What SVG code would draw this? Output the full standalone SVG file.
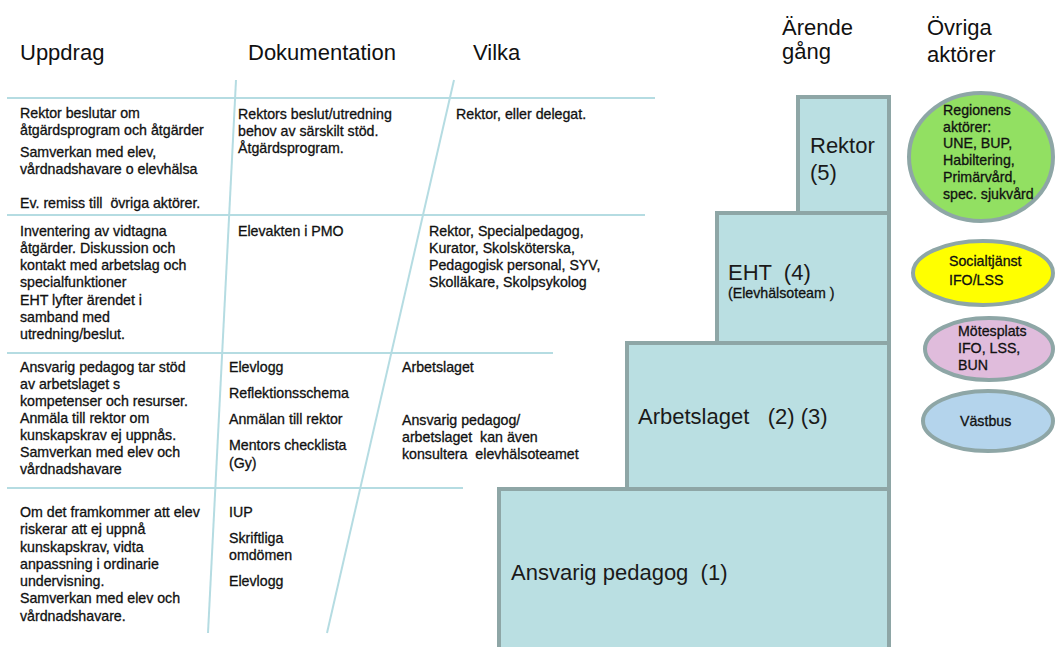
<svg xmlns="http://www.w3.org/2000/svg" width="1060" height="647" viewBox="0 0 1060 647">
  <style>
    text { font-family: "Liberation Sans", Arial, sans-serif; fill: #111; }
    .h { font-size: 22px; }
    .t { font-size: 14.2px; stroke: #111; stroke-width: 0.3; }
    .big { font-size: 22px; fill: #1a1a1a; }
    .grid { stroke: #b5dce2; stroke-width: 2; fill: none; }
    .step { fill: #badfe2; stroke: #8ea6a6; stroke-width: 4; }
    .ell { stroke: #8ea6a6; stroke-width: 4; }
  </style>
  <rect width="1060" height="647" fill="#ffffff"/>

  <!-- headers -->
  <g id="headers">
    <text class="h" x="20" y="60">Uppdrag</text>
    <text class="h" x="248" y="60">Dokumentation</text>
    <text class="h" x="473" y="60">Vilka</text>
    <text class="h" x="782" y="35">Ärende</text>
    <text class="h" x="782" y="59">gång</text>
    <text class="h" x="927" y="35">Övriga</text>
    <text class="h" x="927" y="62">aktörer</text>
  </g>

  <!-- table grid lines -->
  <g id="connectors">
    <line class="grid" x1="7" y1="98" x2="655" y2="98"/>
    <line class="grid" x1="7" y1="215" x2="645" y2="215"/>
    <line class="grid" x1="7" y1="353" x2="553" y2="353"/>
    <line class="grid" x1="7" y1="488" x2="463" y2="488"/>
    <line class="grid" x1="236" y1="80" x2="208" y2="633"/>
    <line class="grid" x1="454" y1="80" x2="327" y2="633"/>
  </g>

  <!-- row 1 -->
  <g id="row1">
    <text class="t" x="20" y="118">Rektor beslutar om</text>
    <text class="t" x="20" y="135">åtgärdsprogram och åtgärder</text>
    <text class="t" x="20" y="157">Samverkan med elev,</text>
    <text class="t" x="20" y="174">vårdnadshavare o elevhälsa</text>
    <text class="t" x="20" y="208" xml:space="preserve">Ev. remiss till  övriga aktörer.</text>
    <text class="t" x="238" y="118.5">Rektors beslut/utredning</text>
    <text class="t" x="238" y="135.5">behov av särskilt stöd.</text>
    <text class="t" x="238" y="152.5">Åtgärdsprogram.</text>
    <text class="t" x="456" y="118.5">Rektor, eller delegat.</text>
  </g>

  <!-- row 2 -->
  <g id="row2">
    <text class="t" x="20" y="236">Inventering av vidtagna</text>
    <text class="t" x="20" y="253">åtgärder. Diskussion och</text>
    <text class="t" x="20" y="270">kontakt med arbetslag och</text>
    <text class="t" x="20" y="287">specialfunktioner</text>
    <text class="t" x="20" y="305">EHT lyfter ärendet i</text>
    <text class="t" x="20" y="322">samband med</text>
    <text class="t" x="20" y="339">utredning/beslut.</text>
    <text class="t" x="238" y="236">Elevakten i PMO</text>
    <text class="t" x="429" y="236">Rektor, Specialpedagog,</text>
    <text class="t" x="429" y="253">Kurator, Skolsköterska,</text>
    <text class="t" x="429" y="270">Pedagogisk personal, SYV,</text>
    <text class="t" x="429" y="287">Skolläkare, Skolpsykolog</text>
  </g>

  <!-- row 3 -->
  <g id="row3">
    <text class="t" x="20" y="372">Ansvarig pedagog tar stöd</text>
    <text class="t" x="20" y="389">av arbetslaget s</text>
    <text class="t" x="20" y="406">kompetenser och resurser.</text>
    <text class="t" x="20" y="423">Anmäla till rektor om</text>
    <text class="t" x="20" y="440">kunskapskrav ej uppnås.</text>
    <text class="t" x="20" y="457">Samverkan med elev och</text>
    <text class="t" x="20" y="474">vårdnadshavare</text>
    <text class="t" x="229" y="372">Elevlogg</text>
    <text class="t" x="229" y="398">Reflektionsschema</text>
    <text class="t" x="229" y="424">Anmälan till rektor</text>
    <text class="t" x="229" y="450">Mentors checklista</text>
    <text class="t" x="229" y="467.5">(Gy)</text>
    <text class="t" x="402" y="372">Arbetslaget</text>
    <text class="t" x="402" y="425">Ansvarig pedagog/</text>
    <text class="t" x="402" y="442" xml:space="preserve">arbetslaget  kan även</text>
    <text class="t" x="402" y="459" xml:space="preserve">konsultera  elevhälsoteamet</text>
  </g>

  <!-- row 4 -->
  <g id="row4">
    <text class="t" x="20" y="517">Om det framkommer att elev</text>
    <text class="t" x="20" y="534">riskerar att ej uppnå</text>
    <text class="t" x="20" y="551.5">kunskapskrav, vidta</text>
    <text class="t" x="20" y="568.5">anpassning i ordinarie</text>
    <text class="t" x="20" y="585.5">undervisning.</text>
    <text class="t" x="20" y="603">Samverkan med elev och</text>
    <text class="t" x="20" y="620.5">vårdnadshavare.</text>
    <text class="t" x="229" y="516.5">IUP</text>
    <text class="t" x="229" y="542.5">Skriftliga</text>
    <text class="t" x="229" y="560">omdömen</text>
    <text class="t" x="229" y="586">Elevlogg</text>
  </g>

  <!-- staircase -->
  <g id="step-ansvarig">
    <rect class="step" x="499" y="489" width="390" height="180"/>
    <text class="big" x="511" y="580" xml:space="preserve">Ansvarig pedagog  (1)</text>
  </g>
  <g id="step-arbetslaget">
    <rect class="step" x="627" y="343" width="262" height="146"/>
    <text class="big" x="638" y="424" xml:space="preserve">Arbetslaget   (2) (3)</text>
  </g>
  <g id="step-eht">
    <rect class="step" x="717" y="213" width="172" height="130"/>
    <text class="big" x="728" y="280" xml:space="preserve">EHT  (4)</text>
    <text class="t" x="728" y="298">(Elevhälsoteam )</text>
  </g>
  <g id="step-rektor">
    <rect class="step" x="798" y="97" width="91" height="116"/>
    <text class="big" x="810" y="153">Rektor</text>
    <text class="big" x="810" y="180">(5)</text>
  </g>

  <!-- other actors -->
  <g id="actor-regionen">
    <ellipse class="ell" cx="981" cy="157" rx="72" ry="64" fill="#92e062"/>
    <text class="t" x="943" y="115">Regionens</text>
    <text class="t" x="943" y="131.5">aktörer:</text>
    <text class="t" x="943" y="148">UNE, BUP,</text>
    <text class="t" x="943" y="165">Habiltering,</text>
    <text class="t" x="943" y="182">Primärvård,</text>
    <text class="t" x="943" y="199">spec. sjukvård</text>
  </g>
  <g id="actor-socialtjanst">
    <ellipse class="ell" cx="983" cy="273" rx="70" ry="32" fill="#ffff00"/>
    <text class="t" x="949" y="266">Socialtjänst</text>
    <text class="t" x="949" y="285">IFO/LSS</text>
  </g>
  <g id="actor-motesplats">
    <ellipse class="ell" cx="989" cy="349" rx="64" ry="31" fill="#e0bcdc"/>
    <text class="t" x="958" y="336">Mötesplats</text>
    <text class="t" x="958" y="353">IFO, LSS,</text>
    <text class="t" x="958" y="370">BUN</text>
  </g>
  <g id="actor-vastbus">
    <ellipse class="ell" cx="988" cy="421" rx="65" ry="30" fill="#b4d4ec"/>
    <text class="t" x="960" y="426">Västbus</text>
  </g>
</svg>
